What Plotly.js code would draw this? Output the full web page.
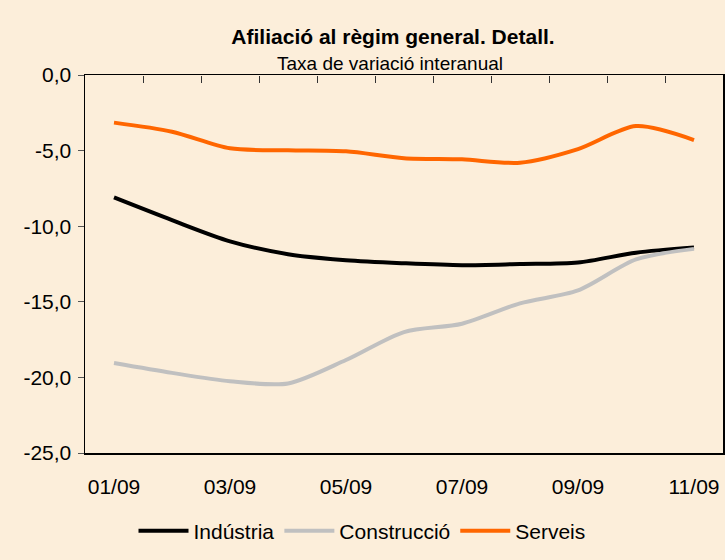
<!DOCTYPE html>
<html>
<head>
<meta charset="utf-8">
<script src="https://cdn.plot.ly/plotly-3.0.1.min.js"></script>
<style>
  html, body { margin: 0; padding: 0; background: #FCEEDA; }
  #chart { width: 725px; height: 560px; }
</style>
</head>
<body>
<div id="chart"></div>
<script>
// Months (categories)
const months = ["01/09","02/09","03/09","04/09","05/09","06/09","07/09","08/09","09/09","10/09","11/09"];
// Series values (taxa de variació interanual, %)
const industria   = [-8.1, -9.6, -11.0, -11.85, -12.25, -12.45, -12.58, -12.5, -12.4, -11.75, -11.4];
const construccio = [-19.05, -19.7, -20.25, -20.4, -18.85, -17.0, -16.45, -15.1, -14.25, -12.2, -11.5];
const serveis     = [-3.15, -3.75, -4.85, -4.98, -5.05, -5.5, -5.58, -5.8, -4.9, -3.38, -4.3];
// Tick labels
const tickLabels = ["01/09","03/09","05/09","07/09","09/09","11/09"];
const yTicks = [0, -5, -10, -15, -20, -25];
const yTickText = ["0,0","-5,0","-10,0","-15,0","-20,0","-25,0"];

const idx = months.map((m, i) => i);
const labelIdx = tickLabels.map(t => months.indexOf(t));
const betweenIdx = months.slice(0, -1).map((m, i) => i + 0.5);

const font = "Arial, 'Liberation Sans', sans-serif";

function trace(name, y, color) {
  return {
    type: "scatter", mode: "lines", name: name,
    x: idx, y: y,
    line: { color: color, width: 4, shape: "spline", smoothing: 0.8 },
    hoverinfo: "skip"
  };
}

const data = [
  trace("Indústria", industria, "#000000"),
  trace("Construcció", construccio, "#C0C0C0"),
  trace("Serveis", serveis, "#FF6600"),
  { type: "scatter", mode: "markers", x: [idx[0]], y: [industria[0]], xaxis: "x2", yaxis: "y",
    showlegend: false, hoverinfo: "skip", marker: { size: 1, opacity: 0 } }
];

const layout = {
  width: 725, height: 560,
  paper_bgcolor: "#FCEEDA",
  plot_bgcolor: "rgba(0,0,0,0)",
  margin: { l: 85, r: 2, t: 75, b: 107, pad: 0 },
  font: { family: font, color: "#000000", size: 21 },
  title: {
    text: "<b>Afiliació al règim general. Detall.</b>",
    font: { family: font, size: 21, color: "#000000" },
    x: 393 / 725, xanchor: "center", xref: "container",
    y: 1 - 37 / 560, yanchor: "middle", yref: "container"
  },
  annotations: [{
    text: "Taxa de variació interanual",
    xref: "paper", yref: "paper",
    x: (390 - 85) / 638, y: 1 + (75 - 63) / 378,
    xanchor: "center", yanchor: "middle",
    showarrow: false,
    font: { family: font, size: 19, color: "#000000" }
  }],
  // bottom: category labels
  xaxis: {
    range: [-0.5, months.length - 0.5],
    tickmode: "array", tickvals: labelIdx, ticktext: tickLabels,
    ticks: "", showgrid: false, zeroline: false,
    showline: true, linecolor: "#000000", linewidth: 1.5, mirror: true,
    ticklabelstandoff: 14,
    tickfont: { family: font, size: 21, color: "#000000" },
    fixedrange: true
  },
  // category axis crossing at 0 (top edge): tick marks between categories pointing down
  xaxis2: {
    overlaying: "x", anchor: "free", position: 1, side: "bottom",
    range: [-0.5, months.length - 0.5],
    tickmode: "array", tickvals: betweenIdx, showticklabels: false,
    ticks: "outside", ticklen: 7, tickwidth: 1, tickcolor: "#333333",
    showgrid: false, zeroline: false, showline: false,
    fixedrange: true
  },
  yaxis: {
    range: [-25, 0],
    tickmode: "array", tickvals: yTicks, ticktext: yTickText,
    ticks: "outside", ticklen: 6, tickwidth: 1, tickcolor: "#555555",
    ticklabelstandoff: 2,
    showgrid: false, zeroline: false,
    showline: true, linecolor: "#000000", linewidth: 1.5, mirror: true,
    tickfont: { family: font, size: 21, color: "#000000" },
    fixedrange: true
  },
  showlegend: true,
  legend: {
    orientation: "h",
    x: 362 / 725, xanchor: "center", xref: "container",
    y: 1 - 531 / 560, yanchor: "middle", yref: "container",
    bgcolor: "rgba(0,0,0,0)",
    font: { family: font, size: 21, color: "#000000" },
    itemwidth: 50, tracegroupgap: 0
  }
};

Plotly.newPlot("chart", data, layout, { displayModeBar: false, staticPlot: true });
</script>
</body>
</html>
